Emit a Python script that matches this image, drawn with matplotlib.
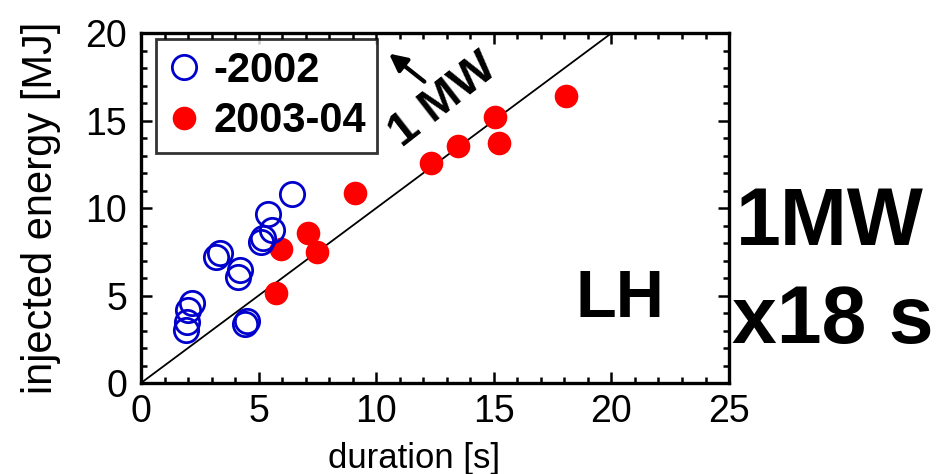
import numpy as np
import matplotlib
matplotlib.use('Agg')
from matplotlib import pyplot as plt

plt.rcParams['font.family'] = ['Liberation Sans', 'DejaVu Sans']

# -2002 shots (open blue circles)
dur_old = [6.40, 5.41, 5.55, 5.19, 5.12, 3.35, 3.21, 4.20, 4.13,
           2.15, 2.01, 1.94, 1.91, 4.49, 4.42]
energy_old = [10.78, 9.64, 8.74, 8.27, 8.07, 7.41, 7.22, 6.46, 6.08,
              4.59, 4.17, 3.50, 3.03, 3.54, 3.37]

# 2003-04 shots (filled red circles)
dur_new = [9.09, 7.11, 5.97, 7.49, 5.72, 18.08, 15.07, 15.22, 13.47, 12.34]
energy_new = [10.84, 8.55, 7.66, 7.50, 5.16, 16.4, 15.22, 13.70, 13.54, 12.55]

# 1 MW reference line
line_t = [0, 20]
line_e = [0, 20]

fig = plt.figure(figsize=(9.52, 4.74), dpi=100)
ax = fig.add_axes([0.1481, 0.192, 0.6177, 0.738])

ax.plot(line_t, line_e, color='black', lw=1.3, zorder=1)
ax.plot(dur_old, energy_old, 'o', ms=17.5, mfc='none', mec='#0000cc',
        mew=2.0, label='-2002', zorder=3)
ax.plot(dur_new, energy_new, 'o', ms=17, mfc='#ff0000', mec='none',
        label='2003-04', zorder=2)

ax.set_xlim(0, 25)
ax.set_ylim(0, 20)
ax.set_xticks([0, 5, 10, 15, 20, 25])
ax.set_yticks([0, 5, 10, 15, 20])
ax.set_xticks(np.arange(0, 26, 1), minor=True)
ax.set_yticks(np.arange(0, 21, 1), minor=True)
ax.tick_params(which='both', direction='in', top=True, right=True, width=1.8)
ax.tick_params(which='major', length=8, labelsize=27)
ax.tick_params(which='minor', length=4.5)
ax.tick_params(axis='x', pad=8)
ax.tick_params(axis='y', pad=10)
for s in ax.spines.values():
    s.set_linewidth(2.4)

ax.set_xlabel('duration [s]', fontsize=25)
ax.xaxis.set_label_coords(0.464, -0.17)
ax.set_ylabel('injected energy [MJ]', fontsize=30)
ax.yaxis.set_label_coords(-0.136, 0.5)

leg = ax.legend(loc='upper left', bbox_to_anchor=(0.025, 0.983), borderaxespad=0,
                prop={'weight': 'bold', 'size': 30}, frameon=True, fancybox=False,
                handletextpad=0.3, borderpad=0.28, labelspacing=0.25, handlelength=0.8)
leg.get_frame().set_edgecolor('black')
leg.get_frame().set_linewidth(2.0)

ax.text(12.84, 16.17, '1 MW', rotation=38, fontsize=34, fontweight='bold',
        ha='center', va='center')
ax.annotate('', xy=(10.45, 18.93), xytext=(12.14, 17.13),
            arrowprops=dict(arrowstyle='-|>', color='black', lw=3, mutation_scale=26))

ax.text(20.37, 3.79, 'LH', fontsize=48, fontweight='bold', ha='center', va='baseline')
fig.text(0.773, 0.483, '1MW', fontsize=58, fontweight='bold', ha='left', va='baseline')
fig.text(0.769, 0.276, 'x18 s', fontsize=58, fontweight='bold', ha='left', va='baseline')

fig.savefig('out.png', dpi=100)
